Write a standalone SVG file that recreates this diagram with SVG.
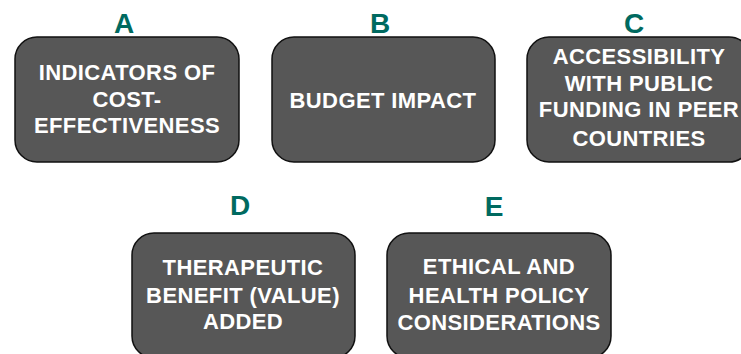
<svg xmlns="http://www.w3.org/2000/svg" width="741" height="354" viewBox="0 0 741 354">
<style>
.box{fill:#575757;stroke:#111;stroke-width:1.5}
.lbl{font-family:"Liberation Sans",Arial,sans-serif;font-weight:bold;font-size:28px;fill:#006a60;text-anchor:middle}
.txt{font-family:"Liberation Sans",Arial,sans-serif;font-weight:bold;font-size:22px;letter-spacing:0.4px;fill:#ffffff;text-anchor:middle}
</style>
<rect width="741" height="354" fill="#ffffff"/>
<g id="nodeA">
<text class="lbl" x="124" y="33">A</text>
<rect class="box" x="15" y="37" width="224" height="125" rx="22"/>
<text class="txt" x="127" y="80">INDICATORS OF</text>
<text class="txt" x="127" y="107">COST-</text>
<text class="txt" x="127" y="133">EFFECTIVENESS</text>
</g>
<g id="nodeB">
<text class="lbl" x="380" y="33">B</text>
<rect class="box" x="272" y="37" width="223" height="125" rx="22"/>
<text class="txt" x="383" y="108">BUDGET IMPACT</text>
</g>
<g id="nodeC">
<text class="lbl" x="634" y="33">C</text>
<rect class="box" x="527" y="37" width="224" height="125" rx="22"/>
<text class="txt" x="639" y="64">ACCESSIBILITY</text>
<text class="txt" x="639" y="91">WITH PUBLIC</text>
<text class="txt" x="639" y="117">FUNDING IN PEER</text>
<text class="txt" x="639" y="146">COUNTRIES</text>
</g>
<g id="nodeD">
<text class="lbl" x="240" y="215">D</text>
<rect class="box" x="132" y="233" width="223" height="125" rx="22"/>
<text class="txt" x="243" y="275">THERAPEUTIC</text>
<text class="txt" x="243" y="303">BENEFIT (VALUE)</text>
<text class="txt" x="243" y="329">ADDED</text>
</g>
<g id="nodeE">
<text class="lbl" x="494" y="216">E</text>
<rect class="box" x="387" y="233" width="224" height="125" rx="22"/>
<text class="txt" x="499" y="274">ETHICAL AND</text>
<text class="txt" x="499" y="303">HEALTH POLICY</text>
<text class="txt" x="499" y="330">CONSIDERATIONS</text>
</g>
<g id="connectors"></g>
</svg>
